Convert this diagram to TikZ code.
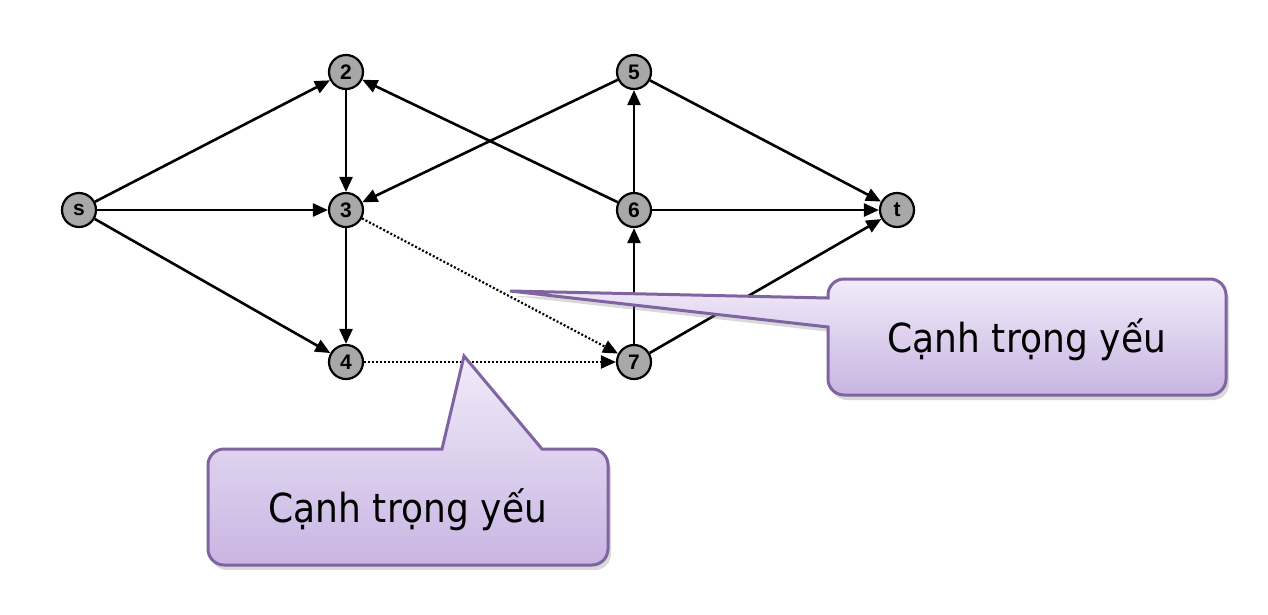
\documentclass[tikz,border=0pt]{standalone}
\usepackage{fontspec}
\setmainfont{Liberation Sans}
\newfontfamily\callfont{DejaVu Sans Condensed}
\usetikzlibrary{arrows.meta,shadows}
\definecolor{calloutline}{HTML}{8064A2}
\definecolor{callouttop}{HTML}{F1EBF9}
\definecolor{calloutbot}{HTML}{C8B5E2}
\definecolor{nodegray}{HTML}{A8A8A8}
\tikzset{
  vert/.style={circle,draw=black,line width=2.2pt,fill=nodegray,minimum size=34pt,inner sep=0pt,font=\fontsize{21}{21}\selectfont\bfseries},
  edge/.style={line width=2.6pt,-{Triangle[length=15pt,width=13pt]}},
  critedge/.style={line width=2.2pt,dash pattern=on 2pt off 2pt,-{Triangle[length=15pt,width=13pt]}},
  callout/.style={draw=calloutline,line width=3pt,top color=callouttop,bottom color=calloutbot,
    drop shadow={opacity=0.3,shadow xshift=3pt,shadow yshift=-5pt}},
  calltext/.style={font=\callfont\fontsize{40}{40}\selectfont,text=black}
}
\begin{document}
\begin{tikzpicture}[x=1pt,y=-1pt]
\useasboundingbox (0,0) rectangle (1268,614);
\node[vert] (s) at (79,210) {s};
\node[vert] (n2) at (346,72) {2};
\node[vert] (n3) at (346,210) {3};
\node[vert] (n4) at (346,362) {4};
\node[vert] (n5) at (634,72) {5};
\node[vert] (n6) at (634,210) {6};
\node[vert] (n7) at (634,362) {7};
\node[vert] (t) at (897,210) {t};
\draw[edge] (s) -- (n2);
\draw[edge] (s) -- (n3);
\draw[edge] (s) -- (n4);
\draw[edge] (n2) -- (n3);
\draw[edge] (n3) -- (n4);
\draw[edge] (n6) -- (n2);
\draw[edge] (n5) -- (n3);
\draw[edge] (n6) -- (n5);
\draw[edge] (n6) -- (t);
\draw[edge] (n5) -- (t);
\draw[edge] (n7) -- (n6);
\draw[edge] (n7) -- (t);
\draw[critedge] (n3) -- (n7);
\draw[critedge] (n4) -- (n7);
% callout 1
\coordinate (tipA) at (510,291);
\draw[callout] (1000,279) [rounded corners=16pt] -- (1226,279) -- (1226,395) -- (828,395)
  [sharp corners] -- (828,327) -- (tipA) -- (828,298) [rounded corners=16pt] -- (828,279) -- cycle;
\node[calltext] (labA) at (1027,340) {Cạnh trọng yếu};
% callout 2
\coordinate (tipB) at (464,356);
\draw[callout] (208,520) [rounded corners=16pt] -- (208,449)
  [sharp corners] -- (442,449) -- (tipB) -- (542,449) [rounded corners=16pt] -- (608,449) -- (608,565) -- (208,565) -- cycle;
\node[calltext] (labB) at (408,510) {Cạnh trọng yếu};
\end{tikzpicture}
\end{document}
